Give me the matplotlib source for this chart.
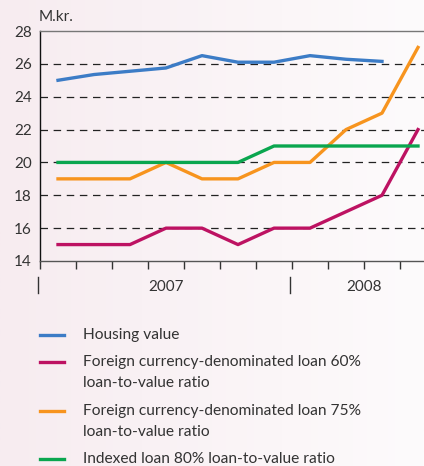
import numpy as np
import matplotlib.pyplot as plt
from matplotlib.lines import Line2D
from matplotlib.colors import LinearSegmentedColormap

plt.rcParams['font.family'] = ['Lato', 'DejaVu Sans']

# periods (bi-monthly-ish steps), 7 in 2007 and 4 in 2008
periods = np.arange(11)
housing_value = [25.0, 25.35, 25.55, 25.75, 26.5, 26.1, 26.1, 26.5, 26.28, 26.15]
fx_loan_60 = [15, 15, 15, 16, 16, 15, 16, 16, 17, 18, 22]
fx_loan_75 = [19, 19, 19, 20, 19, 19, 20, 20, 22, 23, 27]
indexed_80 = [20, 20, 20, 20, 20, 20, 21, 21, 21, 21, 21]
years = ['2007', '2008']
year_bounds = [-0.5, 6.5, 10.5]

labels = ['Housing value',
          'Foreign currency-denominated loan 60%\nloan-to-value ratio',
          'Foreign currency-denominated loan 75%\nloan-to-value ratio',
          'Indexed loan 80% loan-to-value ratio']
colors = ['#3c7cc6', '#bd1262', '#f7941e', '#0aa64f']

fig = plt.figure(figsize=(4.24, 4.66), dpi=100)

# pale pink to white background
bg = fig.add_axes([0, 0, 1, 1], zorder=-10)
grad = np.linspace(0, 1, 256).reshape(1, -1)
cmap = LinearSegmentedColormap.from_list('bg', ['#f7ecf0', '#fdfbfc'])
bg.imshow(grad, aspect='auto', cmap=cmap, extent=[0, 1, 0, 1])
bg.axis('off')

ax = fig.add_axes([40 / 424, 1 - 261 / 466, 1 - 40 / 424, 230 / 466])
ax.patch.set_alpha(0)

ax.plot(periods[:len(housing_value)], housing_value, color=colors[0], lw=2.4, zorder=3)
ax.plot(periods, fx_loan_60, color=colors[1], lw=2.4, zorder=3)
ax.plot(periods, fx_loan_75, color=colors[2], lw=2.4, zorder=3)
ax.plot(periods, indexed_80, color=colors[3], lw=2.4, zorder=3)

ax.set_ylim(14, 28)
ax.set_xlim(-0.5, (424 - 58) / 36)
ax.set_yticks(range(14, 29, 2))
for y in range(16, 28, 2):
    ax.axhline(y, color='#222222', lw=0.9, ls=(0, (6, 4.5)), zorder=1)

ax.spines['right'].set_visible(False)
ax.spines['top'].set_color('#777777')
ax.spines['bottom'].set_color('#555555')
ax.spines['left'].set_color('#111111')
for s in ax.spines.values():
    s.set_linewidth(1.0)

ax.set_xticks(np.arange(-0.5, 10, 1.0))
ax.set_xticklabels([])
ax.tick_params(axis='x', direction='out', length=6, width=1, color='#333333')
ax.tick_params(axis='y', length=0, pad=6, labelsize=11, labelcolor='#333333')

# year separators and labels
trans = ax.get_xaxis_transform()
for b in year_bounds[:2]:
    ax.add_line(Line2D([b - 0.05, b - 0.05], [-0.07, -0.14], transform=trans,
                       color='#333333', lw=1, clip_on=False))
for i, yr in enumerate(years):
    ax.text((year_bounds[i] + year_bounds[i + 1]) / 2, -0.115, yr, transform=trans,
            ha='center', va='center', fontsize=11, color='#333333')

fig.text(39 / 424, 1 - 17 / 466, 'M.kr.', ha='left', va='center', fontsize=11, color='#333333')

# legend drawn by hand so the key sits at the first line of each label
rows = [335, 362, 411, 459]
for lab, col, y in zip(labels, colors, rows):
    fy = 1 - y / 466
    fig.add_artist(Line2D([40 / 424, 64 / 424], [fy, fy], color=col, lw=2.4))
    for k, line in enumerate(lab.split('\n')):
        fig.text(83 / 424, 1 - (y + 21 * k) / 466, line, ha='left', va='center',
                 fontsize=11.2, color='#333333')

fig.savefig('out.png', dpi=100)
